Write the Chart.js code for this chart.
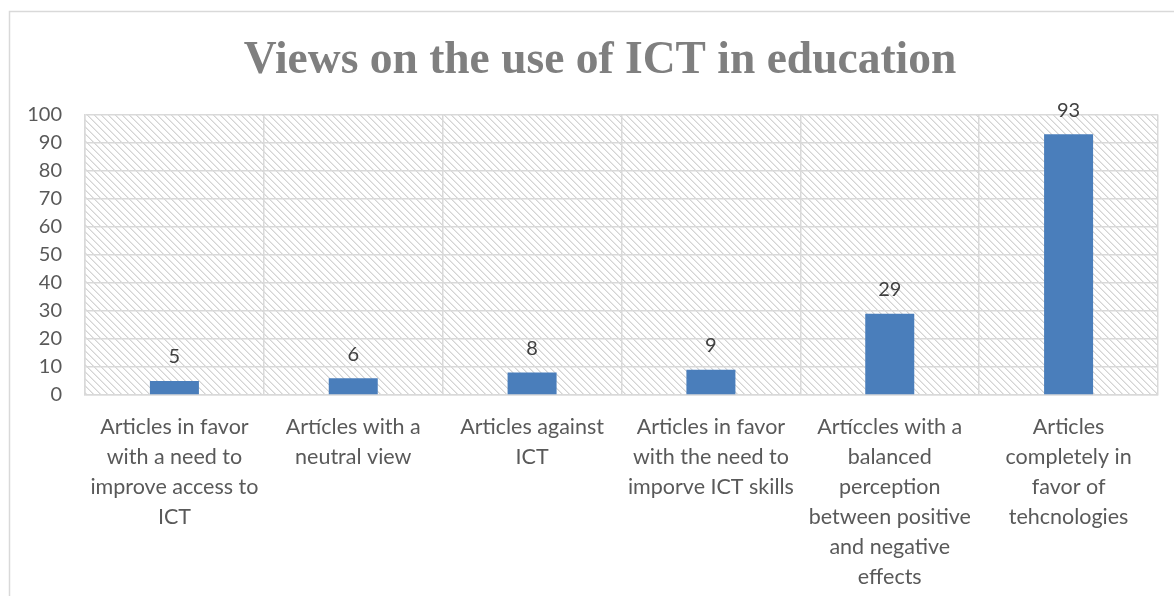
<!DOCTYPE html>
<html>
<head>
<meta charset="utf-8">
<script src="https://cdn.jsdelivr.net/npm/chart.js@4.4.1/dist/chart.umd.min.js"></script>
<style>
  html, body { margin: 0; padding: 0; background: #ffffff; }
  #wrap { width: 1174px; height: 596px; position: relative; }
</style>
</head>
<body>
<div id="wrap"><canvas id="c" width="1174" height="596"></canvas></div>
<script>
const titleText = "Views on the use of ICT in education";
const categories = [
  ["Articles in favor", "with a need to", "improve access to", "ICT"],
  ["Artícles with a", "neutral view"],
  ["Articles against", "ICT"],
  ["Articles in favor", "with the need to", "imporve ICT skills"],
  ["Artíccles with a", "balanced", "perception", "between positive", "and negative", "effects"],
  ["Articles", "completely in", "favor of", "tehcnologies"]
];
const values = [5, 6, 8, 9, 29, 93];
const yMin = 0, yMax = 100, yStep = 10;

function makeHatch() {
  const t = document.createElement('canvas');
  t.width = 7; t.height = 7;
  const g = t.getContext('2d');
  g.fillStyle = '#ffffff';
  g.fillRect(0, 0, 7, 7);
  for (let y = 0; y < 7; y++) {
    for (let x = 0; x < 7; x++) {
      const d = ((x - y) % 7 + 7) % 7;
      if (d === 0) { g.fillStyle = '#d4d4d4'; g.fillRect(x, y, 1, 1); }
      else if (d === 1) { g.fillStyle = '#e8e8e8'; g.fillRect(x, y, 1, 1); }
    }
  }
  return g.createPattern(t, 'repeat');
}

const bgPlugin = {
  id: 'bgPlugin',
  beforeDraw(chart) {
    const ctx = chart.ctx;
    ctx.save();
    ctx.fillStyle = '#ffffff';
    ctx.fillRect(0, 0, chart.width, chart.height);
    ctx.strokeStyle = '#d9d9d9';
    ctx.lineWidth = 1.5;
    ctx.strokeRect(9.5, 11.5, chart.width + 20, chart.height + 20);
    const a = chart.chartArea;
    ctx.fillStyle = makeHatch();
    ctx.fillRect(a.left, a.top, a.right - a.left, a.bottom - a.top);
    ctx.restore();
  }
};

const labelPlugin = {
  id: 'labelPlugin',
  afterDatasetsDraw(chart) {
    const ctx = chart.ctx;
    const meta = chart.getDatasetMeta(0);
    ctx.save();
    ctx.fillStyle = '#404040';
    ctx.font = '20px Lato';
    ctx.textAlign = 'center';
    ctx.textBaseline = 'middle';
    meta.data.forEach((bar, i) => {
      ctx.fillText(String(values[i]), bar.x, bar.y - 24);
    });
    ctx.restore();
  }
};

new Chart(document.getElementById('c'), {
  type: 'bar',
  data: {
    labels: categories,
    datasets: [{
      data: values,
      backgroundColor: '#4a7ebb',
      borderWidth: 0,
      barPercentage: 0.274,
      categoryPercentage: 1.0
    }]
  },
  options: {
    responsive: false,
    animation: false,
    events: [],
    layout: { padding: { left: 26, right: 0, top: 0, bottom: 0 } },
    plugins: {
      legend: { display: false },
      tooltip: { enabled: false },
      title: {
        display: true,
        text: titleText,
        color: '#7f7f7f',
        font: { family: 'Liberation Serif', size: 45.5, weight: 'bold', lineHeight: 1.2 },
        padding: { top: 34, bottom: 26 }
      }
    },
    scales: {
      x: {
        grid: { display: true, color: '#d9d9d9', lineWidth: 1.5, drawTicks: false, offset: true },
        border: { display: true, color: '#d9d9d9', width: 1.5 },
        ticks: {
          color: '#595959',
          font: { family: 'Lato', size: 21.5, lineHeight: '30px' },
          padding: 17,
          maxRotation: 0,
          autoSkip: false
        },
        afterFit(scale) { scale.height = 596 - 395; }
      },
      y: {
        min: yMin, max: yMax,
        grid: { color: '#d9d9d9', lineWidth: 1.5, drawTicks: false },
        border: { display: true, color: '#d9d9d9', width: 1.5 },
        ticks: {
          stepSize: yStep,
          color: '#595959',
          font: { family: 'Lato', size: 20 },
          padding: 23
        },
        afterFit(scale) { scale.width = 59; }
      },
      yRightSpace: {
        position: 'right',
        display: true,
        min: yMin, max: yMax,
        grid: { display: false, drawOnChartArea: false, drawTicks: false },
        border: { display: false },
        ticks: { display: false },
        afterFit(scale) { scale.width = 16; }
      }
    }
  },
  plugins: [bgPlugin, labelPlugin]
});
</script>
</body>
</html>
